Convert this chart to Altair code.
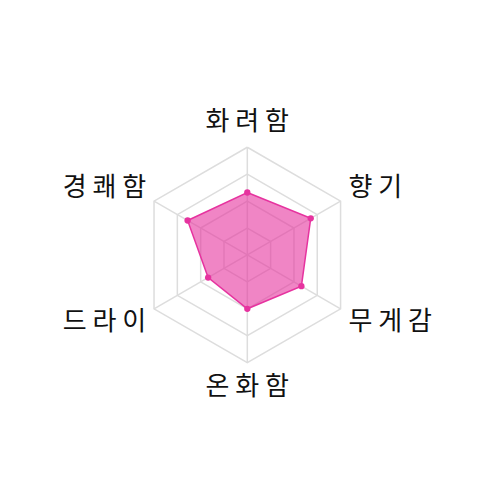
import math
import altair as alt
import pandas as pd

axes = ["화려함", "향기", "무게감", "온화함", "드라이", "경쾌함"]
values = [58, 68, 58, 50, 42, 64]
levels = [25, 50, 75, 100]
label_text = ["화 려 함", "향 기", "무 게 감", "온 화 함", "드 라 이", "경 쾌 함"]

PINK = "#e6339f"
GRID = "#dddddd"

n = len(axes)
angles = [math.pi / 2 - 2 * math.pi * i / n for i in range(n)]

grid_rows = []
for lv in levels:
    for k in range(n + 1):
        a = angles[k % n]
        grid_rows.append({"level": lv, "order": k, "x": lv * math.cos(a), "y": lv * math.sin(a)})
grid_df = pd.DataFrame(grid_rows)

spoke_df = pd.DataFrame({
    "x": [0.0] * n, "y": [0.0] * n,
    "x2": [100 * math.cos(a) for a in angles],
    "y2": [100 * math.sin(a) for a in angles],
})

data_df = pd.DataFrame({
    "axis": axes,
    "order": list(range(n)),
    "value": values,
    "x": [v * math.cos(a) for v, a in zip(values, angles)],
    "y": [v * math.sin(a) for v, a in zip(values, angles)],
})

lab_rows = []
for t, a in zip(label_text, angles):
    c, s = math.cos(a), math.sin(a)
    if abs(c) < 1e-6:
        lab_rows.append({"label": t, "x": 0.0, "y": 123 * (1 if s > 0 else -1), "align": "center"})
    else:
        lab_rows.append({"label": t, "x": 94 * (1 if c > 0 else -1), "y": 62 * (1 if s > 0 else -1),
                         "align": "left" if c > 0 else "right"})
lab_df = pd.DataFrame(lab_rows)

xs = alt.Scale(domain=[-222.2, 227.2], nice=False, zero=False)
ys = alt.Scale(domain=[-220.1, 229.3], nice=False, zero=False)
X = lambda f="x": alt.X(f"{f}:Q", scale=xs, axis=None)
Y = lambda f="y": alt.Y(f"{f}:Q", scale=ys, axis=None)

grid = alt.Chart(grid_df).mark_line(stroke=GRID, strokeWidth=1.5).encode(
    x=X(), y=Y(), detail="level:N", order="order:Q")
spokes = alt.Chart(spoke_df).mark_rule(stroke=GRID, strokeWidth=1.5).encode(
    x=X(), y=Y(), x2="x2:Q", y2="y2:Q")
poly = alt.Chart(data_df).mark_line(
    interpolate="linear-closed", stroke=PINK, strokeWidth=1.5, fill=PINK, fillOpacity=0.6
).encode(x=X(), y=Y(), order="order:Q")
pts = alt.Chart(data_df).mark_circle(color=PINK, opacity=1, size=40).encode(x=X(), y=Y())

def lab(al):
    return alt.Chart(lab_df[lab_df["align"] == al]).mark_text(
        align=al, baseline="middle", font="Noto Sans CJK KR", fontSize=26, color="#111111"
    ).encode(x=X(), y=Y(), text="label:N")

chart = alt.layer(grid, spokes, poly, pts, lab("center"), lab("left"), lab("right")).properties(
    width=484, height=484, padding=0, autosize=alt.AutoSizeParams(type="none")
).configure_view(stroke=None)

chart.save("out.html", embed_options={"renderer": "svg", "actions": False})
